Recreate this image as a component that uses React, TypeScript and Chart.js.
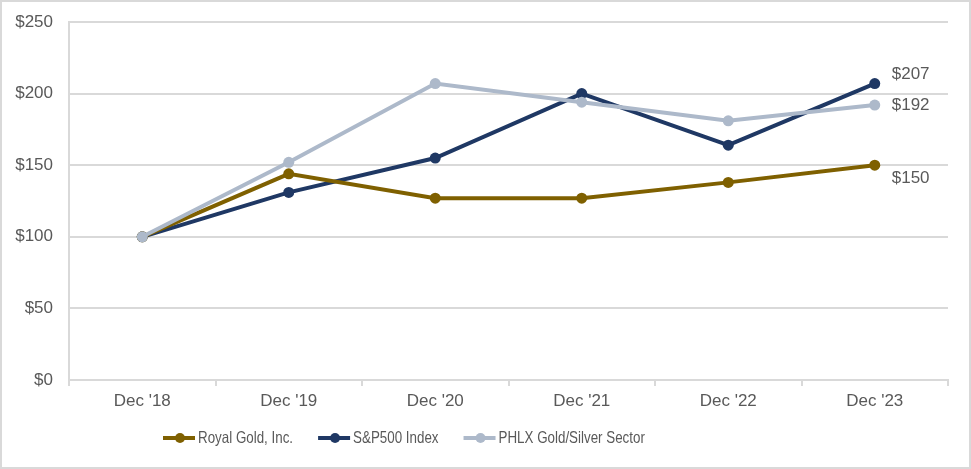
import React, { useEffect, useRef } from "react";
import { Chart, registerables } from "chart.js";

Chart.register(...registerables);

const categories = ["Dec '18", "Dec '19", "Dec '20", "Dec '21", "Dec '22", "Dec '23"];
const royalGold = [100, 144, 127, 127, 138, 150];
const sp500 = [100, 131, 155, 200, 164, 207];
const phlx = [100, 152, 207, 194, 181, 192];
const seriesNames = ["Royal Gold, Inc.", "S&P500 Index", "PHLX Gold/Silver Sector"];
const seriesColors = ["#7F6000", "#1F3864", "#ADB9CA"];
const endLabelOffsets = [13, -9, 0];

const FONT = "'Liberation Sans', Arial, sans-serif";
const TEXT_COLOR = "#595959";
const GRID = "#D9D9D9";

const endLabelPlugin = {
  id: "endLabels",
  afterDatasetsDraw(chart: any) {
    const ctx = chart.ctx;
    ctx.save();
    ctx.font = `17px ${FONT}`;
    ctx.fillStyle = TEXT_COLOR;
    ctx.textAlign = "left";
    ctx.textBaseline = "middle";
    chart.data.datasets.forEach((ds: any, i: number) => {
      const meta = chart.getDatasetMeta(i);
      const pt = meta.data[meta.data.length - 1];
      const v = ds.data[ds.data.length - 1];
      ctx.fillText("$" + v, pt.x + 17, pt.y + endLabelOffsets[i]);
    });
    ctx.restore();
  },
};

const legendPlugin = {
  id: "customLegend",
  afterDraw(chart: any) {
    const ctx = chart.ctx;
    ctx.save();
    ctx.font = `16.5px ${FONT}`;
    ctx.textBaseline = "middle";
    ctx.textAlign = "left";
    const squeeze = 0.81;
    let x = chart.chartArea.left + 94;
    const y = 438;
    chart.data.datasets.forEach((ds: any) => {
      ctx.strokeStyle = ds.borderColor;
      ctx.lineWidth = 4;
      ctx.beginPath();
      ctx.moveTo(x, y);
      ctx.lineTo(x + 32, y);
      ctx.stroke();
      ctx.fillStyle = ds.borderColor;
      ctx.beginPath();
      ctx.arc(x + 17, y, 5, 0, Math.PI * 2);
      ctx.fill();
      ctx.fillStyle = TEXT_COLOR;
      ctx.save();
      ctx.translate(x + 35, y);
      ctx.scale(squeeze, 1);
      ctx.fillText(ds.label, 0, 0);
      ctx.restore();
      x += 35 + ctx.measureText(ds.label).width * squeeze + 25;
    });
    ctx.strokeStyle = GRID;
    ctx.lineWidth = 2;
    ctx.strokeRect(1, 1, chart.width - 2, chart.height - 2);
    ctx.restore();
  },
};

export default function App() {
  const ref = useRef<HTMLCanvasElement>(null);
  useEffect(() => {
    document.body.style.margin = "0";
    const values = [royalGold, sp500, phlx];
    const chart = new Chart(ref.current!, {
      type: "line",
      data: {
        labels: categories,
        datasets: values.map((d, i) => ({
          label: seriesNames[i],
          data: d,
          borderColor: seriesColors[i],
          backgroundColor: seriesColors[i],
          borderWidth: 4,
          pointRadius: 5.5,
          pointBorderWidth: 0,
          pointBackgroundColor: seriesColors[i],
          tension: 0,
          order: [1, 2, 0][i],
        })),
      },
      options: {
        animation: false,
        responsive: false,
        layout: { padding: { top: 22, right: 23, left: 0, bottom: 0 } },
        plugins: { legend: { display: false }, tooltip: { enabled: false } },
        scales: {
          x: {
            offset: true,
            grid: {
              offset: true,
              drawOnChartArea: false,
              drawTicks: true,
              tickLength: 6,
              color: GRID,
              lineWidth: 2,
            },
            border: { display: true, color: GRID, width: 2 },
            ticks: { color: TEXT_COLOR, font: { family: FONT, size: 17 }, padding: 5 },
            afterFit: (s: any) => {
              s.height = 89;
              s.paddingLeft = 0;
              s.paddingRight = 0;
            },
          },
          y: {
            min: 0,
            max: 250,
            ticks: {
              stepSize: 50,
              color: TEXT_COLOR,
              font: { family: FONT, size: 17 },
              padding: 16,
              callback: (v: any) => "$" + v,
            },
            grid: { color: GRID, lineWidth: 2, drawTicks: false },
            border: { display: true, color: GRID, width: 2 },
            afterFit: (s: any) => {
              s.width = 69;
              s.paddingTop = 0;
              s.paddingBottom = 0;
            },
          },
        },
      },
      plugins: [endLabelPlugin, legendPlugin],
    });
    return () => chart.destroy();
  }, []);
  return (
    <div style={{ width: 971, height: 469, background: "#fff" }}>
      <canvas ref={ref} width={971} height={469} />
    </div>
  );
}
